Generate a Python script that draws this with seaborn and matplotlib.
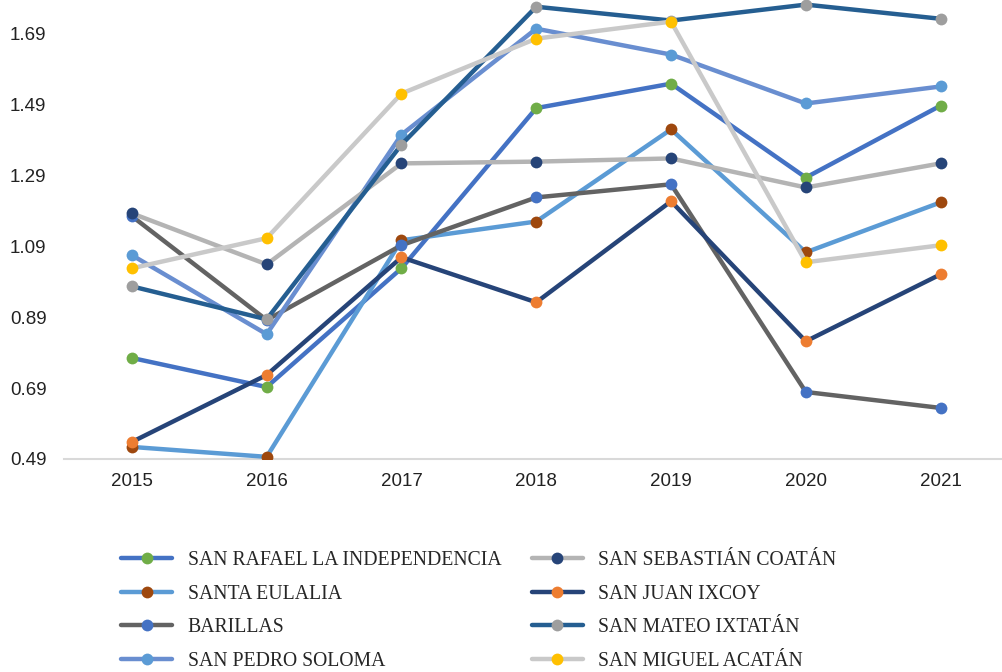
import numpy as np
import matplotlib
matplotlib.use("Agg")
import matplotlib.pyplot as plt
import seaborn as sns

# ===== DATA =====
years = ["2015", "2016", "2017", "2018", "2019", "2020", "2021"]
yticks = [0.49, 0.69, 0.89, 1.09, 1.29, 1.49, 1.69]

names = [
    "SAN RAFAEL LA INDEPENDENCIA",
    "SANTA EULALIA",
    "BARILLAS",
    "SAN PEDRO SOLOMA",
    "SAN SEBASTIÁN COATÁN",
    "SAN JUAN IXCOY",
    "SAN MATEO IXTATÁN",
    "SAN MIGUEL ACATÁN",
]

san_rafael = [0.775, 0.693, 1.028, 1.480, 1.549, 1.284, 1.487]
santa_eulalia = [0.524, 0.496, 1.107, 1.160, 1.420, 1.073, 1.214]
barillas = [1.175, 0.882, 1.093, 1.228, 1.265, 0.679, 0.634]
san_pedro = [1.065, 0.842, 1.405, 1.704, 1.631, 1.493, 1.541]
san_sebastian = [1.183, 1.039, 1.324, 1.329, 1.338, 1.256, 1.324]
san_juan = [0.538, 0.727, 1.059, 0.932, 1.217, 0.822, 1.011]
san_mateo = [0.977, 0.884, 1.377, 1.766, 1.727, 1.772, 1.732]
san_miguel = [1.028, 1.113, 1.521, 1.676, 1.724, 1.045, 1.093]

series = [san_rafael, santa_eulalia, barillas, san_pedro,
          san_sebastian, san_juan, san_mateo, san_miguel]

line_colors = ["#4472C4", "#5B9BD5", "#636363", "#698ED0",
               "#B4B4B4", "#264478", "#255E91", "#C9C9C9"]
marker_colors = ["#70AD47", "#9E480E", "#4472C4", "#5B9BD5",
                 "#264478", "#ED7D31", "#9E9E9E", "#FFC000"]

# ===== PLOT =====
sns.set_style("white")
fig = plt.figure(figsize=(10.03, 6.72), dpi=100)
ax = fig.add_axes([0.0643, 0.317, 0.9407, 0.683])

x = np.arange(len(years))
for name, vals, lc, mc in zip(names, series, line_colors, marker_colors):
    sns.lineplot(x=x, y=vals, ax=ax, color=lc, linewidth=3.2, label=name,
                 marker="o", markersize=8.5, markerfacecolor=mc,
                 markeredgecolor=mc, markeredgewidth=0, zorder=3)

ax.set_xlim(-0.5, 6.5)
ax.set_ylim(0.49, 1.785)
ax.set_xticks(x)
ax.set_xticklabels(years, fontsize=13.5, family="Liberation Sans", color="#222222")
ax.set_yticks(yticks)
ax.set_yticklabels([f"{t:.2f}" for t in yticks], fontsize=13.5,
                   family="Liberation Sans", color="#222222")
ax.tick_params(axis="both", length=0)
ax.tick_params(axis="x", pad=10)
ax.tick_params(axis="y", pad=13)

for s in ["top", "right", "left"]:
    ax.spines[s].set_visible(False)
ax.spines["bottom"].set_color("#D9D9D9")
ax.spines["bottom"].set_linewidth(1.5)
ax.grid(False)

ax.get_legend().remove()
handles, labels = ax.get_legend_handles_labels()
# two columns, filled column by column as in the reference
fig.legend(handles, labels, ncol=2, loc="upper left",
           bbox_to_anchor=(0.1206, 0.18), frameon=False,
           prop={"family": "Liberation Serif", "size": 14.2},
           handlelength=2.6, handletextpad=0.78, labelspacing=0.74,
           columnspacing=1.55, borderpad=0, borderaxespad=0)

fig.savefig("out.png", dpi=100)
